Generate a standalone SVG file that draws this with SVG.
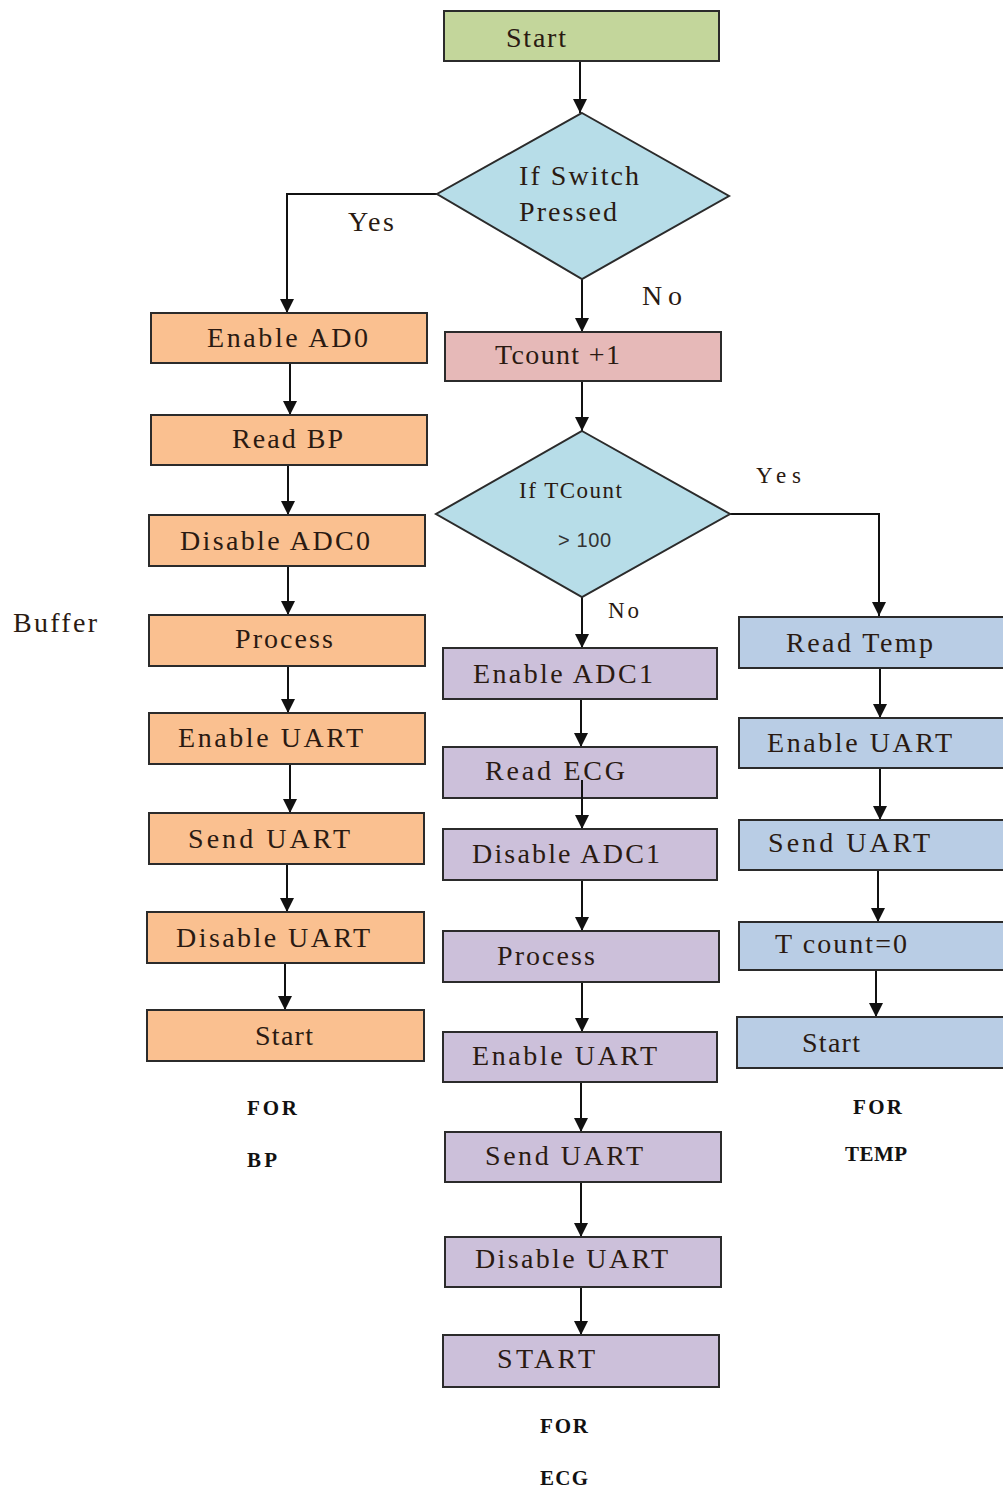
<svg xmlns="http://www.w3.org/2000/svg" width="1003" height="1492" viewBox="0 0 1003 1492">
<style>
.b{stroke:#2b2b2b;stroke-width:2}
.g{fill:#c3d69b}.d{fill:#b7dde8}.p{fill:#e6b9b8}.o{fill:#fac090}.v{fill:#ccc0da}.l{fill:#b9cde5}
text{font-family:"Liberation Serif","Times New Roman",serif;font-size:28px;fill:#2a1a12}
.s{font-size:23px}
.f{font-size:21px;font-weight:bold;fill:#111}
.n{font-family:"Liberation Sans",Arial,sans-serif;font-size:20px;fill:#333}
.c{fill:none;stroke:#111;stroke-width:2}
</style>
<defs>
<marker id="ah" viewBox="0 0 10 10" refX="10" refY="5" markerWidth="7" markerHeight="7" markerUnits="strokeWidth" orient="auto">
<path d="M0,0 L10,5 L0,10 z" fill="#111"/>
</marker>
</defs>
<rect width="1003" height="1492" fill="#fff"/>

<g id="connectors" class="c">
<path d="M580,61 V113" marker-end="url(#ah)"/>
<path d="M437,194 H287 V313" marker-end="url(#ah)"/>
<path d="M582,279 V332" marker-end="url(#ah)"/>
<path d="M582,381 V431" marker-end="url(#ah)"/>
<path d="M730,514 H879 V616" marker-end="url(#ah)"/>
<path d="M582,597 V648" marker-end="url(#ah)"/>
<path d="M290,363 V415" marker-end="url(#ah)"/>
<path d="M288,465 V515" marker-end="url(#ah)"/>
<path d="M288,566 V615" marker-end="url(#ah)"/>
<path d="M288,666 V713" marker-end="url(#ah)"/>
<path d="M290,764 V813" marker-end="url(#ah)"/>
<path d="M287,864 V912" marker-end="url(#ah)"/>
<path d="M285,963 V1010" marker-end="url(#ah)"/>
<path d="M581,699 V747" marker-end="url(#ah)"/>
<path d="M582,780 V829" marker-end="url(#ah)"/>
<path d="M582,880 V931" marker-end="url(#ah)"/>
<path d="M582,982 V1032" marker-end="url(#ah)"/>
<path d="M581,1082 V1132" marker-end="url(#ah)"/>
<path d="M581,1182 V1237" marker-end="url(#ah)"/>
<path d="M581,1287 V1335" marker-end="url(#ah)"/>
<path d="M880,668 V718" marker-end="url(#ah)"/>
<path d="M880,768 V820" marker-end="url(#ah)"/>
<path d="M878,870 V922" marker-end="url(#ah)"/>
<path d="M876,970 V1017" marker-end="url(#ah)"/>
</g>

<g id="start"><rect class="b g" x="444" y="11" width="275" height="50"/><text x="506" y="47" textLength="60">Start</text></g>
<g id="switch"><polygon class="b d" points="582,113 729,196 582,279 437,194"/><text x="519" y="185" textLength="120">If Switch</text><text x="519" y="221" textLength="98">Pressed</text></g>
<g id="tcount"><rect class="b p" x="445" y="332" width="276" height="49"/><text x="495" y="364" textLength="125">Tcount +1</text></g>
<g id="tcheck"><polygon class="b d" points="582,431 730,514 582,597 436,514"/><text class="s" x="519" y="498" textLength="103">If TCount</text><text class="n" x="558" y="547" textLength="53">&gt; 100</text></g>

<g id="labels">
<text x="348" y="231" textLength="46">Yes</text>
<text x="642" y="305" textLength="40">No</text>
<text class="s" x="756" y="483" textLength="45">Yes</text>
<text class="s" x="608" y="618" textLength="31">No</text>
<text x="13" y="632" textLength="84">Buffer</text>
<text class="f" x="247" y="1115" textLength="50">FOR</text>
<text class="f" x="247" y="1167" textLength="30">BP</text>
<text class="f" x="540" y="1433" textLength="48">FOR</text>
<text class="f" x="540" y="1485" textLength="48">ECG</text>
<text class="f" x="853" y="1114" textLength="49">FOR</text>
<text class="f" x="845" y="1161" textLength="62">TEMP</text>
</g>

<g id="bp1"><rect class="b o" x="151" y="313" width="276" height="50"/><text x="207" y="347" textLength="161">Enable AD0</text></g>
<g id="bp2"><rect class="b o" x="151" y="415" width="276" height="50"/><text x="232" y="448" textLength="111">Read BP</text></g>
<g id="bp3"><rect class="b o" x="149" y="515" width="276" height="51"/><text x="180" y="550" textLength="190">Disable ADC0</text></g>
<g id="bp4"><rect class="b o" x="149" y="615" width="276" height="51"/><text x="235" y="648" textLength="98">Process</text></g>
<g id="bp5"><rect class="b o" x="149" y="713" width="276" height="51"/><text x="178" y="747" textLength="185">Enable UART</text></g>
<g id="bp6"><rect class="b o" x="149" y="813" width="275" height="51"/><text x="188" y="848" textLength="162">Send UART</text></g>
<g id="bp7"><rect class="b o" x="147" y="912" width="277" height="51"/><text x="176" y="947" textLength="194">Disable UART</text></g>
<g id="bp8"><rect class="b o" x="147" y="1010" width="277" height="51"/><text x="255" y="1045" textLength="58">Start</text></g>

<g id="ecg1"><rect class="b v" x="443" y="648" width="274" height="51"/><text x="473" y="683" textLength="180">Enable ADC1</text></g>
<g id="ecg2"><rect class="b v" x="443" y="747" width="274" height="51"/><text x="485" y="780" textLength="140">Read ECG</text></g>
<path d="M582,780 V800" class="c"/>
<g id="ecg3"><rect class="b v" x="443" y="829" width="274" height="51"/><text x="472" y="863" textLength="188">Disable ADC1</text></g>
<g id="ecg4"><rect class="b v" x="443" y="931" width="276" height="51"/><text x="497" y="965" textLength="98">Process</text></g>
<g id="ecg5"><rect class="b v" x="443" y="1032" width="274" height="50"/><text x="472" y="1065" textLength="185">Enable UART</text></g>
<g id="ecg6"><rect class="b v" x="445" y="1132" width="276" height="50"/><text x="485" y="1165" textLength="158">Send UART</text></g>
<g id="ecg7"><rect class="b v" x="445" y="1237" width="276" height="50"/><text x="475" y="1268" textLength="193">Disable UART</text></g>
<g id="ecg8"><rect class="b v" x="443" y="1335" width="276" height="52"/><text x="497" y="1368" textLength="98">START</text></g>

<g id="t1"><rect class="b l" x="739" y="617" width="280" height="51"/><text x="786" y="652" textLength="147">Read Temp</text></g>
<g id="t2"><rect class="b l" x="739" y="718" width="280" height="50"/><text x="767" y="752" textLength="185">Enable UART</text></g>
<g id="t3"><rect class="b l" x="739" y="820" width="280" height="50"/><text x="768" y="852" textLength="162">Send UART</text></g>
<g id="t4"><rect class="b l" x="739" y="922" width="280" height="48"/><text x="775" y="953" textLength="132">T count=0</text></g>
<g id="t5"><rect class="b l" x="737" y="1017" width="282" height="51"/><text x="802" y="1052" textLength="58">Start</text></g>
</svg>
